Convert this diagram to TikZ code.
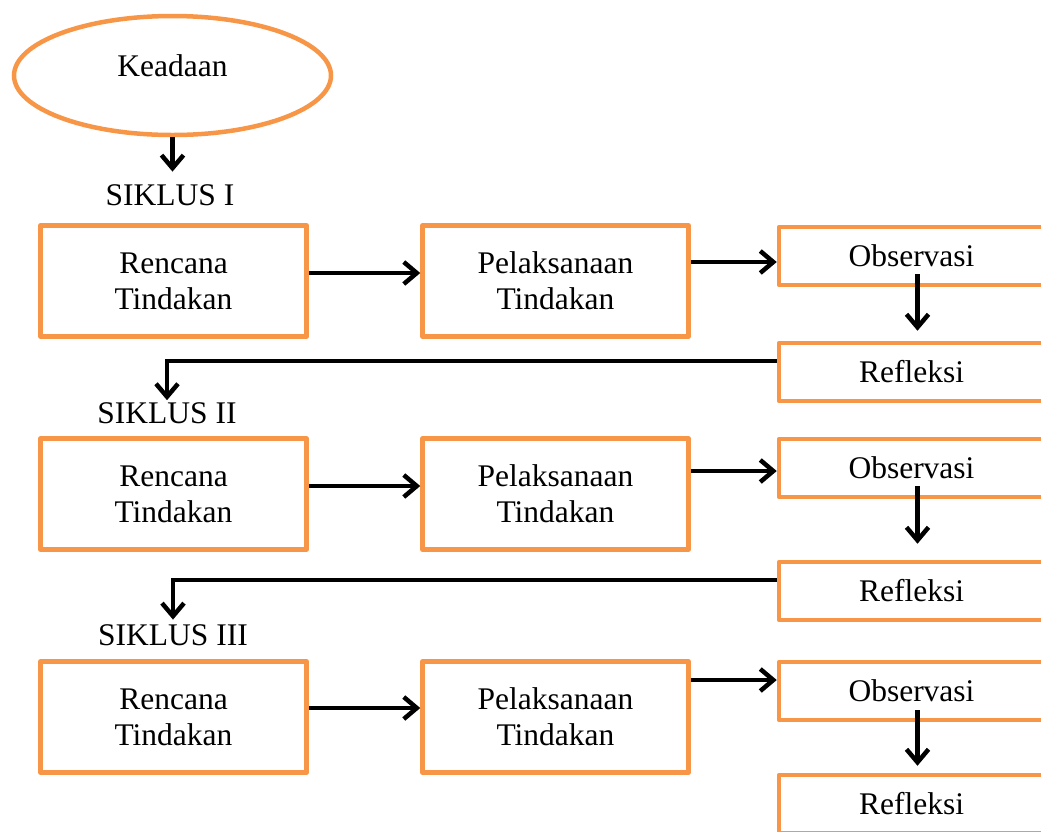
\documentclass[tikz,border=0pt]{standalone}
\usepackage{fontspec}
\setmainfont{Liberation Serif}
\usetikzlibrary{shapes.geometric,arrows.meta}
\definecolor{boxorange}{HTML}{F79646}

\begin{document}
\begin{tikzpicture}[x=1pt,y=-1pt,
  font=\fontsize{31.5pt}{36pt}\selectfont,
  box/.style={draw=boxorange,line width=4.5pt,line join=round,align=center,inner sep=0pt,minimum width=266pt,minimum height=111pt},
  flat/.style={draw=boxorange,line width=4.5pt,line join=round,inner sep=0pt,minimum width=265pt,minimum height=58pt},
  arr/.style={line width=4.5pt,-{Straight Barb[length=13pt,width=22pt]}},
  siklus/.style={inner sep=2pt}]

\useasboundingbox (0,0) rectangle (1041,831);
\clip (0,0) rectangle (1041,831);

% Start: the ellipse at the top
\node[draw=boxorange,line width=4.5pt,ellipse,inner sep=0pt,minimum width=317pt,minimum height=119pt,
  label={[yshift=10pt]center:Keadaan}] (keadaan) at (172.5,75.5) {};

% Cycle labels
\node[siklus] (siklus1) at (170,195) {SIKLUS I};
\node[siklus] (siklus2) at (167,413) {SIKLUS II};
\node[siklus] (siklus3) at (173,635) {SIKLUS III};

% Row of cycle I
\node[box] (ren1) at (173.5,281) {Rencana\\Tindakan};
\node[box] (pel1) at (555.5,281) {Pelaksanaan\\Tindakan};
\node[flat] (obs1) at (911.5,256) {Observasi};
\node[flat] (ref1) at (911.5,372) {Refleksi};

% Row of cycle II
\node[box] (ren2) at (173.5,494) {Rencana\\Tindakan};
\node[box] (pel2) at (555.5,494) {Pelaksanaan\\Tindakan};
\node[flat] (obs2) at (911.5,468) {Observasi};
\node[flat] (ref2) at (911.5,591) {Refleksi};

% Row of cycle III
\node[box] (ren3) at (173.5,717) {Rencana\\Tindakan};
\node[box] (pel3) at (555.5,717) {Pelaksanaan\\Tindakan};
\node[flat] (obs3) at (911.5,691) {Observasi};
\node[flat] (ref3) at (911.5,804) {Refleksi};

% Arrows
\draw[arr,shorten >=10.6pt] (keadaan.south) -- (keadaan.south |- siklus1.north);

\draw[arr] ([yshift=8pt]ren1.east) -- ([yshift=8pt]ren1.east -| pel1.west);
\draw[arr] ([yshift=-6pt]obs1.west -| pel1.east) -- ([yshift=-6pt]obs1.west);
\draw[arr,shorten >=10pt] ([xshift=6pt,yshift=-18pt]obs1.center) -- ([xshift=6pt]ref1.north);
\draw[arr] ([yshift=11pt]ref1.west) -| (siklus2.north);

\draw[arr] ([yshift=8pt]ren2.east) -- ([yshift=8pt]ren2.east -| pel2.west);
\draw[arr] ([yshift=-3pt]obs2.west -| pel2.east) -- ([yshift=-3pt]obs2.west);
\draw[arr,shorten >=16pt] ([xshift=6pt,yshift=-18pt]obs2.center) -- ([xshift=6pt]ref2.north);
\draw[arr,shorten >=2.6pt] ([yshift=11pt]ref2.west) -| (siklus3.north);

\draw[arr] ([yshift=9pt]ren3.east) -- ([yshift=9pt]ren3.east -| pel3.west);
\draw[arr] ([yshift=11pt]obs3.west -| pel3.east) -- ([yshift=11pt]obs3.west);
\draw[arr,shorten >=7pt] ([xshift=6pt,yshift=-19pt]obs3.center) -- ([xshift=6pt]ref3.north);

\end{tikzpicture}
\end{document}
